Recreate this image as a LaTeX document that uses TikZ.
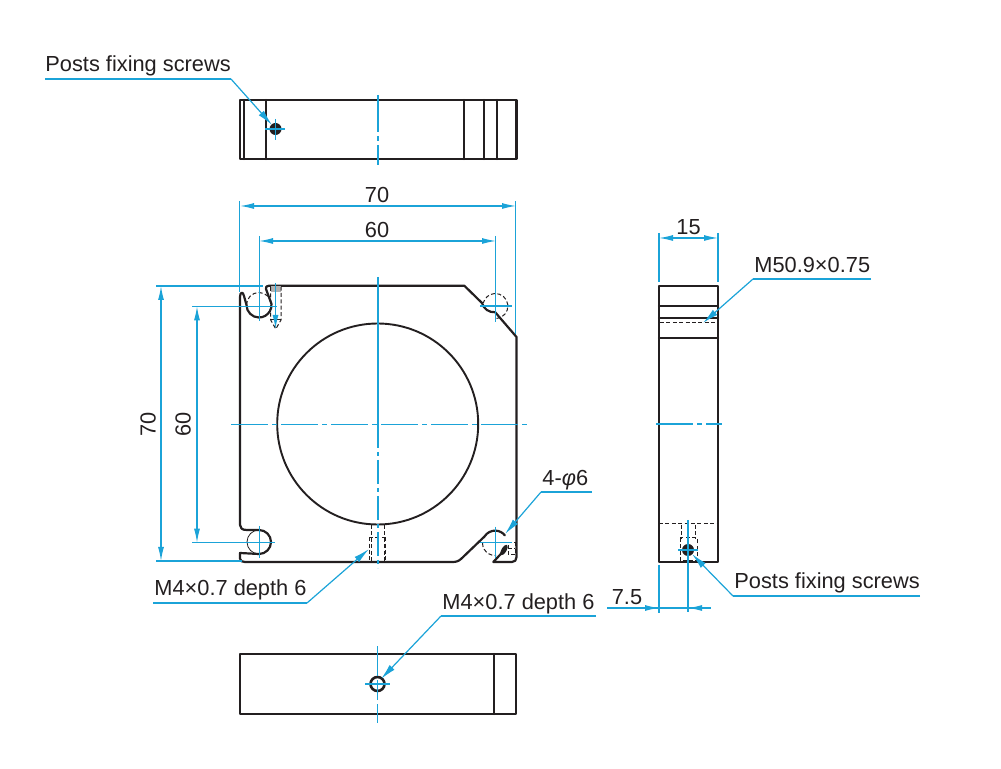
\documentclass[tikz,border=0pt]{standalone}
\usepackage{fontspec}
\setmainfont{Liberation Sans}
\usepackage{xcolor}
\usetikzlibrary{arrows.meta,calc}
\definecolor{outline}{HTML}{231F20}
\definecolor{dimblue}{HTML}{1BA3D8}
\tikzset{
  body/.style={draw=outline, line width=1.1pt, line cap=round, line join=round},
  thin/.style={draw=outline, line width=0.4pt},
  hid/.style={draw=outline, line width=0.5pt, dash pattern=on 2pt off 1.2pt},
  center/.style={draw=dimblue, line width=0.6pt, dash pattern=on 18.5pt off 2pt on 2.5pt off 2pt},
  dimline/.style={draw=dimblue, line width=0.6pt},
  dimarrow/.style={dimline, {Latex[length=7pt,width=3pt]}-{Latex[length=7pt,width=3pt]}},
  leader/.style={dimline, -{Latex[length=8pt,width=3.4pt]}},
  lab/.style={text=outline, font=\fontsize{10.9}{12}\selectfont, inner sep=0pt},
}
\begin{document}
\begin{tikzpicture}[x=0.5pt,y=-0.5pt]
  \useasboundingbox (0,0) rectangle (1001,769);
  % top view
  \draw[body] (240,100) rectangle (516.5,159);
  \draw[body] (244,100) -- (244,159);
  \draw[body] (266,100) -- (266,159);
  \draw[body] (464,100) -- (464,159);
  \draw[body] (484,100) -- (484,159);
  \draw[body] (497,100) -- (497,159);
  \fill[outline] (275.5,129) circle (6);
  \fill[white] (275.5,129) circle (1.6);
  \draw[center] (378,95) -- (378,165);
  \draw[dimline] (265,129) -- (285,129);
  \draw[dimline] (275.5,119) -- (275.5,140);
  % main plate
  \draw[body] (240,525) -- (240,297) .. controls (240,292) and (243,291) .. (244,296) -- (246.5,305)
    arc[start angle=180,end angle=-5,radius=12.5] -- (266,289)
    .. controls (265.5,287) and (266.5,285.7) .. (269,285.7) -- (464.3,285.7) -- (482,303)
    arc[start angle=165,end angle=85,radius=12.5] -- (516.5,337) -- (516.5,557)
    .. controls (516.5,560) and (515,562) .. (512,562) -- (493.3,562) -- (501.7,553);
  \draw[body] (240,525) .. controls (240,528) and (242,530) .. (246.7,530) -- (259,530)
    arc[start angle=-90,end angle=90,radius=12] -- (240,553)
    -- (240,558.5) .. controls (240,561) and (242,562) .. (245,562) -- (451.7,562)
    .. controls (456,562) and (458,561.5) .. (461,559) -- (484.5,536.5)
    arc[start angle=212,end angle=322,radius=12.5];
  \draw[body,line width=0.95pt] (377.7,424) circle (100.5);
  \draw[hid] (246.5,305) arc[start angle=180,end angle=360,radius=12.5];
  \draw[thin] (259,554) arc[start angle=90,end angle=270,radius=12];
  \draw[hid] (496.5,318.5) arc[start angle=85,end angle=-165,radius=12.5];
  \draw[hid] (482.5,543) arc[start angle=180,end angle=85,radius=12.5];
  % dashed screw holes
  \fill[outline!35] (270.7,286.5) rectangle (281,292);
  \draw[hid] (270.7,287) -- (270.7,320) -- (275.8,329) -- (281,320) -- (281,287);
  \draw[hid] (270.7,320) -- (281,320);
  \draw[hid] (371,525) -- (371,561);
  \draw[hid] (384.3,525) -- (384.3,561);
  \draw[hid] (369,537.3) -- (385.7,537.3);
  \draw[hid] (369,537.3) -- (369,561);
  \draw[hid] (385.7,537.3) -- (385.7,561);
  \draw[hid] (508,543) -- (515,543) -- (515,555) -- (508,555) -- cycle;
  \draw[hid] (508,549) -- (515,549);
  \fill[outline,rotate around={-30:(504,550)}] (504,550) ellipse (2.5 and 6);
  % center lines plate
  \draw[dimline] (378,277) -- (378,424);
  \draw[center,dash pattern=on 12pt off 2pt on 2pt off 2pt] (378,424) -- (378,568);
  \draw[center] (231,424.3) -- (527,424.3);
  % side view
  \draw[body] (659,286) rectangle (718,562);
  \draw[body] (659,305.7) -- (718,305.7);
  \draw[body] (659,317.7) -- (718,317.7);
  \draw[body] (659,337.7) -- (718,337.7);
  \draw[hid] (660,323) -- (717,323);
  \draw[hid] (659,524) -- (718,524);
  \draw[hid] (681.7,525) -- (681.7,538);
  \draw[hid] (695,525) -- (695,538);
  \draw[hid] (680,538) rectangle (697,561);
  \fill[outline] (688,550) circle (6);
  \fill[white] (688,550) circle (1.5);
  \draw[center] (656,424) -- (722,424);
  \draw[center,dash pattern=on 46pt off 2pt on 3pt off 2pt] (688,520) -- (688,612);
  \draw[dimline] (678,550) -- (698,550);
  % bottom view
  \draw[body] (240,654) rectangle (516,714);
  \draw[body] (494,654) -- (494,714);
  \draw[body,line width=1.3pt] (377.5,684) circle (7);
  \draw[center,dash pattern=on 15pt off 2pt on 10pt off 2pt] (377.5,646) -- (377.5,723);
  \draw[dimline] (365,684) -- (390,684);
  % dimension 70 and 60 on top
  \coordinate (wa1) at (240,206);
  \coordinate (wa2) at (516,206);
  \coordinate (wb1) at (259,241);
  \coordinate (wb2) at (496,241);
  \draw[dimline] (239.5,201) -- (239.5,292);
  \draw[dimline] (515.5,201) -- (515.5,334);
  \draw[dimline] (259.3,236) -- (259.3,321);
  \draw[dimline] (495.3,236) -- (495.3,322);
  \draw[dimarrow] (wa1) -- (wa2);
  \draw[dimarrow] (wb1) -- (wb2);
  \node[lab,fill=white,inner sep=1pt] (w70) at (377,195) {70};
  \node[lab,fill=white,inner sep=1pt] (w60) at (377,230) {60};
  % dimension 70 and 60 on the left
  \coordinate (ha1) at (161,286);
  \coordinate (ha2) at (161,561);
  \coordinate (hb1) at (197,306.3);
  \coordinate (hb2) at (197,542.7);
  \draw[dimline] (156,286) -- (263,286);
  \draw[dimline] (156,561) -- (241.7,561);
  \draw[dimline] (192,306.3) -- (277,306.3);
  \draw[dimline] (192,542.7) -- (275,542.7);
  \draw[dimarrow] (ha1) -- (ha2);
  \draw[dimarrow] (hb1) -- (hb2);
  \node[lab,rotate=90] (h70) at (148,424) {70};
  \node[lab,rotate=90] (h60) at (183,424) {60};
  % extra hole marks
  \draw[dimline,-{Latex[length=7pt,width=3pt]}] (275.5,283) -- (275.5,329);
  \draw[dimline] (480,306) -- (511.7,306);
  \draw[dimline] (480,542.7) -- (511.7,542.7);
  \draw[dimline] (495.3,526.7) -- (495.3,558);
  \draw[dimline] (259.3,526) -- (259.3,558);
  % dimension 15
  \draw[dimline] (659,233) -- (659,282);
  \draw[dimline] (718,233) -- (718,282);
  \coordinate (ta1) at (659,238);
  \coordinate (ta2) at (718,238);
  \draw[dimarrow] (ta1) -- (ta2);
  \node[lab] (t15) at (688.5,227) {15};
  % dimension 7.5
  \draw[dimline] (659,565) -- (659,613);
  \coordinate (sa) at (659,608);
  \coordinate (sb) at (688,608);
  \draw[dimline] (607,608) -- (711,608);
  \draw[dimline, {Latex[length=7pt,width=3pt]}-] (sa) -- ++(-14,0);
  \draw[dimline, {Latex[length=7pt,width=3pt]}-] (sb) -- ++(14,0);
  \node[lab] (s75) at (627,597) {7.5};
  % leaders
  \node[lab,anchor=base west] (lposts) at (45,72) {Posts fixing screws};
  \coordinate (pa) at (45,79);
  \coordinate (pb) at (231,79);
  \coordinate (pc) at (272,125);
  \draw[dimline] (pa) -- (pb);
  \draw[leader] (pb) -- (pc);
  \node[lab,anchor=base west] (lm50) at (754,272.5) {M50.9×0.75};
  \coordinate (ma) at (871,279);
  \coordinate (mb) at (753,279);
  \coordinate (mc) at (703,323);
  \draw[dimline] (ma) -- (mb);
  \draw[leader] (mb) -- (mc);
  \node[lab,anchor=base west] (lphi) at (542,486) {4-\textit{φ}6};
  \coordinate (fa) at (592,492);
  \coordinate (fb) at (541,492);
  \coordinate (fc) at (505,534);
  \draw[dimline] (fa) -- (fb);
  \draw[leader] (fb) -- (fc);
  \node[lab,anchor=base west] (lm4a) at (154,596) {M4×0.7 depth 6};
  \coordinate (aa) at (153,603);
  \coordinate (ab) at (307,603);
  \coordinate (ac) at (369,549);
  \draw[dimline] (aa) -- (ab);
  \draw[leader] (ab) -- (ac);
  \node[lab,anchor=base west] (lm4b) at (442,609.5) {M4×0.7 depth 6};
  \coordinate (ba) at (596,616);
  \coordinate (bb) at (441,616);
  \coordinate (bc) at (381,679);
  \draw[dimline] (ba) -- (bb);
  \draw[leader] (bb) -- (bc);
  \node[lab,anchor=base west] (lpost2) at (734,588.5) {Posts fixing screws};
  \coordinate (ca) at (920,596);
  \coordinate (cb) at (733,596);
  \coordinate (cc) at (692,554);
  \draw[dimline] (ca) -- (cb);
  \draw[leader] (cb) -- (cc);
\end{tikzpicture}
\end{document}
